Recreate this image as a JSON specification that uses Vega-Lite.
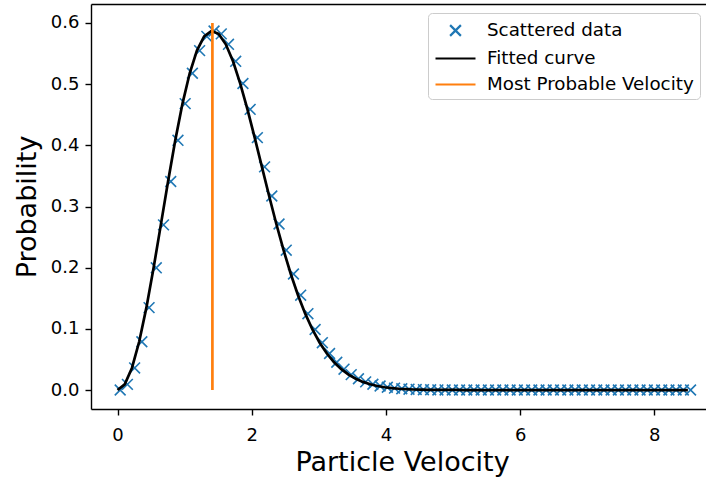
{
  "$schema": "https://vega.github.io/schema/vega-lite/v6.json",
  "width": 615,
  "height": 405,
  "autosize": "none",
  "padding": {"left": 91, "top": 4, "right": 0, "bottom": 71},
  "background": "#ffffff",
  "config": {
    "view": {"stroke": null},
    "font": "DejaVu Sans",
    "axis": {
      "labelFont": "DejaVu Sans", "labelFontSize": 18, "labelColor": "#000000",
      "titleFont": "DejaVu Sans", "titleFontSize": 27, "titleFontWeight": "normal", "titleColor": "#000000",
      "tickColor": "#000000", "tickSize": 6, "tickWidth": 1.4, "labelPadding": 6,
      "domainColor": "#000000", "domainWidth": 1.4, "grid": false
    },
    "legend": {
      "orient": "none", "legendX": 337, "legendY": 9,
      "labelFont": "DejaVu Sans", "labelFontSize": 18.3, "labelColor": "#000000", "labelLimit": 0,
      "symbolSize": 400, "symbolStrokeWidth": 2.2, "padding": 6, "symbolOffset": 10,
      "strokeColor": "#cccccc", "fillColor": "#ffffff", "cornerRadius": 4,
      "rowPadding": 6, "labelOffset": 20
    }
  },
  "datasets": {
    "scatter": [
      {"v": 0.04, "p": 0}, {"v": 0.1476, "p": 0.0092}, {"v": 0.2552, "p": 0.0361}, {"v": 0.3628, "p": 0.0789},
      {"v": 0.4704, "p": 0.1347}, {"v": 0.578, "p": 0.1998}, {"v": 0.6856, "p": 0.27}, {"v": 0.7932, "p": 0.3408},
      {"v": 0.9008, "p": 0.4082}, {"v": 1.0084, "p": 0.4682}, {"v": 1.1159, "p": 0.5178}, {"v": 1.2235, "p": 0.5548},
      {"v": 1.3311, "p": 0.578}, {"v": 1.4387, "p": 0.5869}, {"v": 1.5463, "p": 0.5822}, {"v": 1.6539, "p": 0.5651},
      {"v": 1.7615, "p": 0.5373}, {"v": 1.8691, "p": 0.501}, {"v": 1.9767, "p": 0.4588}, {"v": 2.0843, "p": 0.4126},
      {"v": 2.1919, "p": 0.3648}, {"v": 2.2995, "p": 0.3172}, {"v": 2.4071, "p": 0.2714}, {"v": 2.5147, "p": 0.2286},
      {"v": 2.6223, "p": 0.1897}, {"v": 2.7299, "p": 0.155}, {"v": 2.8375, "p": 0.1248}, {"v": 2.9451, "p": 0.099},
      {"v": 3.0527, "p": 0.0774}, {"v": 3.1603, "p": 0.0597}, {"v": 3.2678, "p": 0.0454}, {"v": 3.3754, "p": 0.0341},
      {"v": 3.483, "p": 0.0252}, {"v": 3.5906, "p": 0.0184}, {"v": 3.6982, "p": 0.0133}, {"v": 3.8058, "p": 0.0094},
      {"v": 3.9134, "p": 0.0066}, {"v": 4.021, "p": 0.0046}, {"v": 4.1286, "p": 0.0031}, {"v": 4.2362, "p": 0.0021},
      {"v": 4.3438, "p": 0.0014}, {"v": 4.4514, "p": 0.0009}, {"v": 4.559, "p": 0.0006}, {"v": 4.6666, "p": 0.0004},
      {"v": 4.7742, "p": 0.0002}, {"v": 4.8818, "p": 0.0002}, {"v": 4.9894, "p": 0.0001}, {"v": 5.097, "p": 0.0001},
      {"v": 5.2046, "p": 0}, {"v": 5.3122, "p": 0}, {"v": 5.4197, "p": 0}, {"v": 5.5273, "p": 0},
      {"v": 5.6349, "p": 0}, {"v": 5.7425, "p": 0}, {"v": 5.8501, "p": 0}, {"v": 5.9577, "p": 0},
      {"v": 6.0653, "p": 0}, {"v": 6.1729, "p": 0}, {"v": 6.2805, "p": 0}, {"v": 6.3881, "p": 0},
      {"v": 6.4957, "p": 0}, {"v": 6.6033, "p": 0}, {"v": 6.7109, "p": 0}, {"v": 6.8185, "p": 0},
      {"v": 6.9261, "p": 0}, {"v": 7.0337, "p": 0}, {"v": 7.1413, "p": 0}, {"v": 7.2489, "p": 0},
      {"v": 7.3565, "p": 0}, {"v": 7.4641, "p": 0}, {"v": 7.5716, "p": 0}, {"v": 7.6792, "p": 0},
      {"v": 7.7868, "p": 0}, {"v": 7.8944, "p": 0}, {"v": 8.002, "p": 0}, {"v": 8.1096, "p": 0},
      {"v": 8.2172, "p": 0}, {"v": 8.3248, "p": 0}, {"v": 8.4324, "p": 0}, {"v": 8.54, "p": 0}
    ],
    "curve": [
      {"v": 0, "p": 0}, {"v": 0.1076, "p": 0.0092}, {"v": 0.2152, "p": 0.0361}, {"v": 0.3228, "p": 0.0789},
      {"v": 0.4304, "p": 0.1347}, {"v": 0.538, "p": 0.1998}, {"v": 0.6456, "p": 0.27}, {"v": 0.7532, "p": 0.3408},
      {"v": 0.8608, "p": 0.4082}, {"v": 0.9684, "p": 0.4682}, {"v": 1.0759, "p": 0.5178}, {"v": 1.1835, "p": 0.5548},
      {"v": 1.2911, "p": 0.578}, {"v": 1.3987, "p": 0.5869}, {"v": 1.5063, "p": 0.5822}, {"v": 1.6139, "p": 0.5651},
      {"v": 1.7215, "p": 0.5373}, {"v": 1.8291, "p": 0.501}, {"v": 1.9367, "p": 0.4588}, {"v": 2.0443, "p": 0.4126},
      {"v": 2.1519, "p": 0.3648}, {"v": 2.2595, "p": 0.3172}, {"v": 2.3671, "p": 0.2714}, {"v": 2.4747, "p": 0.2286},
      {"v": 2.5823, "p": 0.1897}, {"v": 2.6899, "p": 0.155}, {"v": 2.7975, "p": 0.1248}, {"v": 2.9051, "p": 0.099},
      {"v": 3.0127, "p": 0.0774}, {"v": 3.1203, "p": 0.0597}, {"v": 3.2278, "p": 0.0454}, {"v": 3.3354, "p": 0.0341},
      {"v": 3.443, "p": 0.0252}, {"v": 3.5506, "p": 0.0184}, {"v": 3.6582, "p": 0.0133}, {"v": 3.7658, "p": 0.0094},
      {"v": 3.8734, "p": 0.0066}, {"v": 3.981, "p": 0.0046}, {"v": 4.0886, "p": 0.0031}, {"v": 4.1962, "p": 0.0021},
      {"v": 4.3038, "p": 0.0014}, {"v": 4.4114, "p": 0.0009}, {"v": 4.519, "p": 0.0006}, {"v": 4.6266, "p": 0.0004},
      {"v": 4.7342, "p": 0.0002}, {"v": 4.8418, "p": 0.0002}, {"v": 4.9494, "p": 0.0001}, {"v": 5.057, "p": 0.0001},
      {"v": 5.1646, "p": 0}, {"v": 5.2722, "p": 0}, {"v": 5.3797, "p": 0}, {"v": 5.4873, "p": 0},
      {"v": 5.5949, "p": 0}, {"v": 5.7025, "p": 0}, {"v": 5.8101, "p": 0}, {"v": 5.9177, "p": 0},
      {"v": 6.0253, "p": 0}, {"v": 6.1329, "p": 0}, {"v": 6.2405, "p": 0}, {"v": 6.3481, "p": 0},
      {"v": 6.4557, "p": 0}, {"v": 6.5633, "p": 0}, {"v": 6.6709, "p": 0}, {"v": 6.7785, "p": 0},
      {"v": 6.8861, "p": 0}, {"v": 6.9937, "p": 0}, {"v": 7.1013, "p": 0}, {"v": 7.2089, "p": 0},
      {"v": 7.3165, "p": 0}, {"v": 7.4241, "p": 0}, {"v": 7.5316, "p": 0}, {"v": 7.6392, "p": 0},
      {"v": 7.7468, "p": 0}, {"v": 7.8544, "p": 0}, {"v": 7.962, "p": 0}, {"v": 8.0696, "p": 0},
      {"v": 8.1772, "p": 0}, {"v": 8.2848, "p": 0}, {"v": 8.3924, "p": 0}, {"v": 8.5, "p": 0}
    ],
    "mpv": [
      {"v": 1.4142, "p": 0, "p2": 0.6}
    ]
  },
  "resolve": {"axis": {"x": "independent"}},
  "layer": [
    {
      "data": {"name": "scatter"},
      "transform": [{"calculate": "'Scattered data'", "as": "series"}],
      "mark": {"type": "point", "filled": false, "size": 400, "strokeWidth": 1.6, "opacity": 1},
      "encoding": {
        "x": {"field": "v", "type": "quantitative",
              "scale": {"domain": [-0.395, 8.77], "nice": false, "zero": false},
              "axis": {"orient": "bottom", "values": [0, 2, 4, 6, 8], "format": "d", "title": "Particle Velocity", "titleX": 311, "titlePadding": 5, "labelPadding": 11}},
        "y": {"field": "p", "type": "quantitative",
              "scale": {"domain": [-0.031, 0.631], "nice": false, "zero": false},
              "axis": {"orient": "left", "values": [0, 0.1, 0.2, 0.3, 0.4, 0.5, 0.6], "format": ".1f", "title": "Probability", "titlePadding": 9}},
        "color": {"field": "series", "type": "nominal",
                  "scale": {"domain": ["Scattered data", "Fitted curve", "Most Probable Velocity"], "range": ["#1f77b4", "#000000", "#ff7f0e"]},
                  "legend": {"title": null}},
        "shape": {"field": "series", "type": "nominal",
                  "scale": {"domain": ["Scattered data", "Fitted curve", "Most Probable Velocity"], "range": ["M-0.54,-0.54L0.54,0.54M0.54,-0.54L-0.54,0.54", "M-2,0L2,0", "M-2,0L2,0"]},
                  "legend": {"title": null}}
      }
    },
    {
      "data": {"name": "curve"},
      "mark": {"type": "line", "color": "#000000", "strokeWidth": 2.7},
      "encoding": {
        "x": {"field": "v", "type": "quantitative",
              "scale": {"domain": [-0.395, 8.77], "nice": false, "zero": false},
              "axis": {"orient": "top", "labels": false, "ticks": false, "title": null, "domain": true}},
        "y": {"field": "p", "type": "quantitative"}
      }
    },
    {
      "data": {"name": "mpv"},
      "mark": {"type": "rule", "color": "#ff7f0e", "strokeWidth": 2.7},
      "encoding": {
        "x": {"field": "v", "type": "quantitative", "axis": null},
        "y": {"field": "p", "type": "quantitative"},
        "y2": {"field": "p2"}
      }
    }
  ]
}
